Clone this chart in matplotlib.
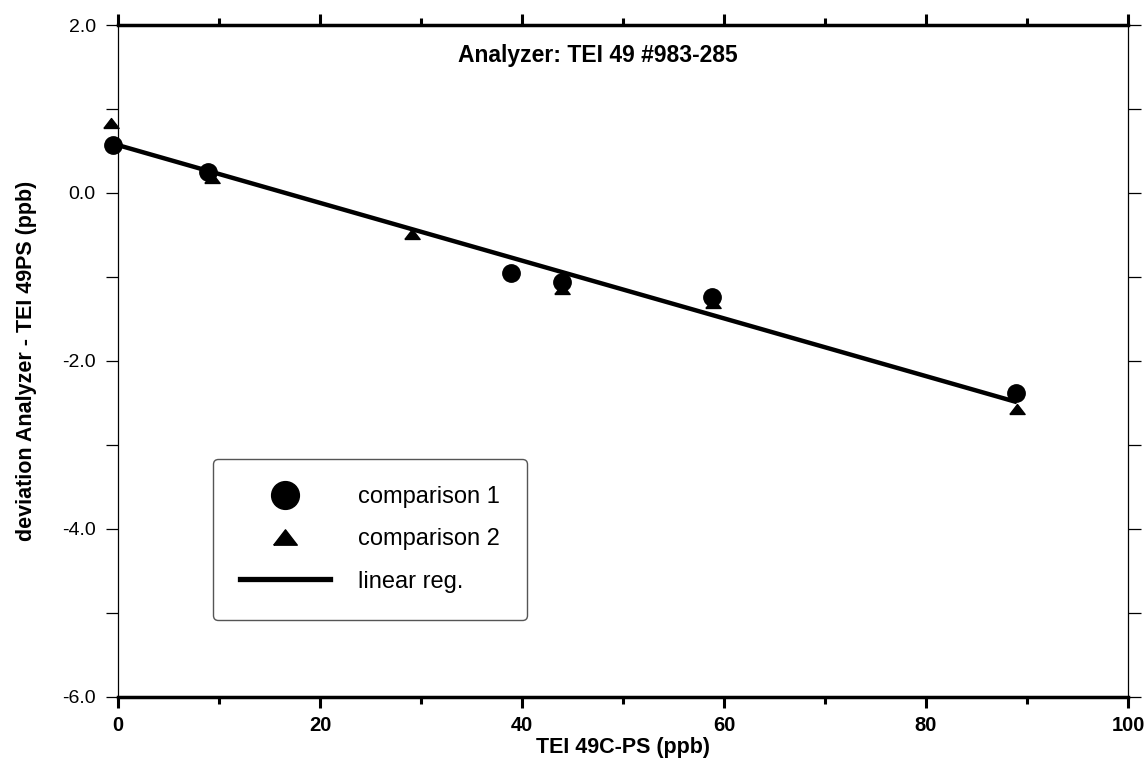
import matplotlib
matplotlib.use('Agg')
import matplotlib.pyplot as plt
from matplotlib.lines import Line2D
from matplotlib.ticker import MultipleLocator, FormatStrFormatter

plt.rcParams['font.family'] = ['Liberation Sans', 'DejaVu Sans']
plt.rcParams['axes.unicode_minus'] = False

# comparison 1 (circles)
comp1_x = [-0.5, 8.9, 38.9, 44.0, 58.8, 88.9]
comp1_y = [0.57, 0.25, -0.95, -1.06, -1.24, -2.38]

# comparison 2 (triangles)
comp2_x = [-0.7, 9.3, 29.1, 44.0, 58.9, 89.0]
comp2_y = [0.83, 0.18, -0.49, -1.14, -1.31, -2.57]

# linear regression end points
reg_x = [0.0, 89.0]
reg_y = [0.57, -2.49]

# flat triangle like the original plot
flat_tri = [(-1, -0.65), (1, -0.65), (0, 0.65), (-1, -0.65)]

fig = plt.figure(figsize=(11.48, 7.67), dpi=100)
ax = fig.add_axes([0.1028, 0.0913, 0.8798, 0.8761])

ax.plot(reg_x, reg_y, color='black', lw=3.2, solid_capstyle='butt', zorder=2)
ax.plot(comp1_x, comp1_y, 'o', color='black', ms=12.5, zorder=3, clip_on=False)
ax.plot(comp2_x, comp2_y, ls='none', marker=flat_tri, color='black', ms=11,
        zorder=3, clip_on=False)

ax.set_xlim(0, 100)
ax.set_ylim(-6, 2)
ax.xaxis.set_major_locator(MultipleLocator(20))
ax.xaxis.set_minor_locator(MultipleLocator(10))
ax.yaxis.set_major_locator(MultipleLocator(2))
ax.yaxis.set_minor_locator(MultipleLocator(1))
ax.yaxis.set_major_formatter(FormatStrFormatter('%.1f'))

ax.tick_params(axis='x', which='both', direction='out', top=True, bottom=True,
               width=2.2, labelsize=14.5)
ax.tick_params(axis='x', which='major', length=8, pad=6)
ax.tick_params(axis='x', which='minor', length=5)
ax.tick_params(axis='y', which='both', direction='out', left=True, right=True,
               width=0.9, length=9, labelsize=14, pad=7)
for lab in ax.get_xticklabels():
    lab.set_fontweight('bold')

ax.spines['top'].set_linewidth(2.5)
ax.spines['bottom'].set_linewidth(2.5)
ax.spines['left'].set_linewidth(0.9)
ax.spines['right'].set_linewidth(0.9)

ax.set_xlabel('TEI 49C-PS (ppb)', fontsize=15.5, fontweight='bold', labelpad=1)
ax.set_ylabel('deviation Analyzer - TEI 49PS (ppb)', fontsize=15.5,
              fontweight='bold', labelpad=18)

ax.text(0.475, 0.954, 'Analyzer: TEI 49 #983-285', transform=ax.transAxes,
        ha='center', va='center', fontsize=16.5, fontweight='bold')

handles = [
    Line2D([], [], marker='o', ls='none', color='black', ms=20),
    Line2D([], [], marker=flat_tri, ls='none', color='black', ms=17),
    Line2D([], [], color='black', lw=3.8),
]
leg = ax.legend(handles, ['comparison 1', 'comparison 2', 'linear reg.'],
                loc='lower left', bbox_to_anchor=(0.094, 0.115), fontsize=17,
                frameon=True, fancybox=True, edgecolor='#555555',
                handlelength=3.8, handletextpad=1.2, labelspacing=0.85,
                borderpad=1.15, borderaxespad=0, framealpha=1)
leg.get_frame().set_linewidth(1.0)

fig.savefig('out.png', dpi=100)
